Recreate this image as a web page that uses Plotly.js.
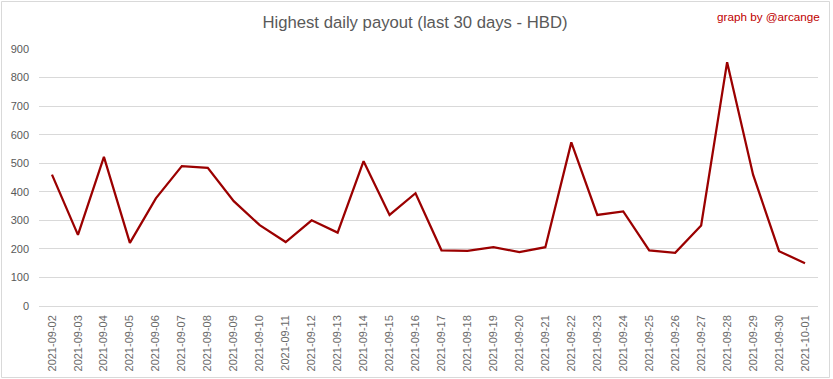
<!DOCTYPE html>
<html>
<head>
<meta charset="utf-8">
<script src="https://cdn.plot.ly/plotly-3.0.1.min.js"></script>
<style>
  html, body { margin: 0; padding: 0; background: #ffffff; }
  #chart { width: 833px; height: 379px; }
</style>
</head>
<body>
<div id="chart"></div>
<script>
const dates = [
  "2021-09-02","2021-09-03","2021-09-04","2021-09-05","2021-09-06","2021-09-07",
  "2021-09-08","2021-09-09","2021-09-10","2021-09-11","2021-09-12","2021-09-13",
  "2021-09-14","2021-09-15","2021-09-16","2021-09-17","2021-09-18","2021-09-19",
  "2021-09-20","2021-09-21","2021-09-22","2021-09-23","2021-09-24","2021-09-25",
  "2021-09-26","2021-09-27","2021-09-28","2021-09-29","2021-09-30","2021-10-01"
];
const payout = [
  460, 249, 522, 221, 377, 490,
  484, 367, 283, 224, 300, 257,
  507, 319, 395, 195, 193, 206,
  189, 206, 573, 319, 331, 195,
  186, 282, 854, 460, 192, 150
];
const yTicks = [0, 100, 200, 300, 400, 500, 600, 700, 800, 900];

const W = 833, H = 379, mL = 39, mR = 15, mT = 49, mB = 73;
const pw = W - mL - mR, ph = H - mT - mB;
const px = v => (v - mL) / pw;
const py = v => (H - mB - v) / ph;

const trace = {
  x: dates,
  y: payout,
  type: 'scatter',
  mode: 'lines',
  line: { color: '#9b0000', width: 2.25 },
  hoverinfo: 'x+y'
};

const layout = {
  width: W, height: H,
  margin: { l: mL, r: mR, t: mT, b: mB, pad: 0 },
  paper_bgcolor: '#ffffff',
  plot_bgcolor: '#ffffff',
  showlegend: false,
  font: { family: 'Liberation Sans, Arial, sans-serif', color: '#595959', size: 11 },
  title: {
    text: 'Highest daily payout (last 30 days - HBD)',
    font: { family: 'Liberation Sans, Arial, sans-serif', size: 16.7, color: '#595959' },
    x: 415 / W, xanchor: 'center', xref: 'container',
    y: 1 - 22 / H, yanchor: 'middle', yref: 'container'
  },
  xaxis: {
    type: 'category',
    tickvals: dates,
    ticktext: dates,
    tickangle: -90,
    showgrid: false,
    showline: false,
    zeroline: false,
    ticks: '',
    ticklabelstandoff: 6,
    tickfont: { size: 11, color: '#6a6a6a' },
    range: [-0.5, dates.length - 0.5],
    fixedrange: true
  },
  yaxis: {
    range: [0, 900],
    tickvals: yTicks,
    ticktext: yTicks.map(String),
    showgrid: true,
    gridcolor: '#d9d9d9',
    gridwidth: 1,
    zeroline: true,
    zerolinecolor: '#d9d9d9',
    zerolinewidth: 1,
    showline: false,
    ticks: '',
    ticklabelstandoff: 9,
    tickfont: { size: 11, color: '#595959' },
    fixedrange: true
  },
  annotations: [{
    text: 'graph by @arcange',
    xref: 'paper', yref: 'paper',
    x: px(822), y: py(16),
    xanchor: 'right', yanchor: 'middle',
    showarrow: false,
    font: { family: 'Liberation Sans, Arial, sans-serif', size: 11.7, color: '#c00000' }
  }],
  shapes: [{
    type: 'rect', xref: 'paper', yref: 'paper',
    x0: px(1.5), x1: px(829.5), y0: py(377.5), y1: py(1.5),
    line: { color: '#d9d9d9', width: 1 },
    fillcolor: 'rgba(0,0,0,0)',
    layer: 'above'
  }]
};

Plotly.newPlot('chart', [trace], layout, { displayModeBar: false, staticPlot: true });
</script>
</body>
</html>
